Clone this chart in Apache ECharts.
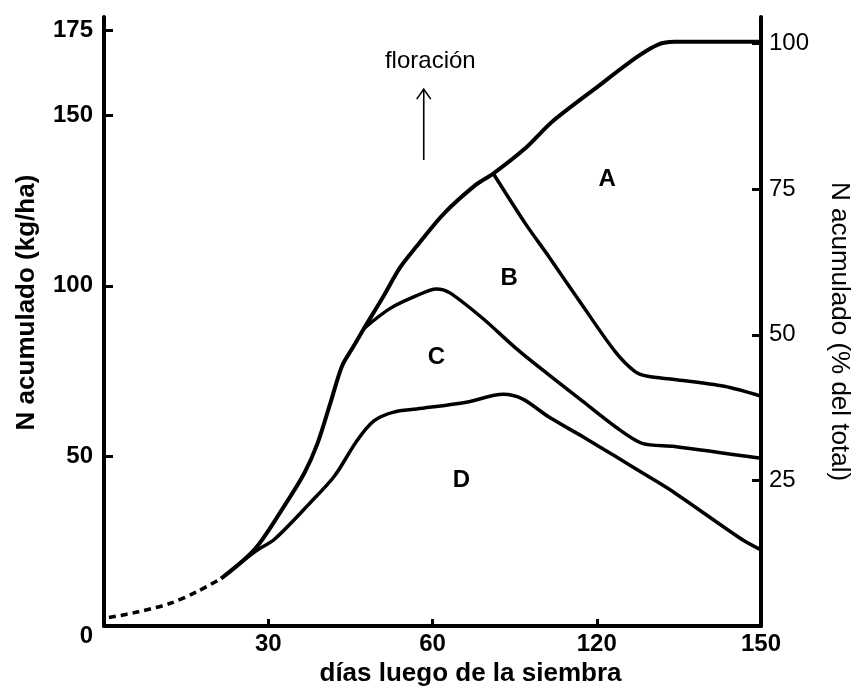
<!DOCTYPE html>
<html>
<head>
<meta charset="utf-8">
<script src="https://cdn.jsdelivr.net/npm/echarts@6/dist/echarts.min.js"></script>
<style>
html,body{margin:0;padding:0;background:#fff;}
#chart{width:860px;height:692px;}
</style>
</head>
<body>
<div id="chart"></div>
<script>
// x values are positions along the drawn axis (one label step = 30 units)
const xTickValues = [30, 60, 90, 120];
const xTickLabels = ['30', '60', '120', '150'];
const leftTicks = [0, 50, 100, 150, 175];
const rightTicks = [25, 50, 75, 100];

// dashed early part (common)
const dashX = [0.9, 6.3, 12.3, 17.2, 21.4];
const dashY = [2.5, 4.2, 6.8, 10.3, 14.0];

// total N curve (upper boundary, A)
const totalX = [21.4, 27.6, 33.0, 36.6, 39.0, 41.3, 43.5, 45.5, 47.5, 51.1, 54.0, 57.1, 62.0, 68.0, 71.1, 77.0, 81.9, 90.3, 97.5, 101.2, 104.2, 120];
const totalY = [14.0, 22.7, 35.5, 45.0, 53.7, 65.3, 76.5, 82.0, 87.5, 97.1, 105.2, 111.6, 121.1, 129.8, 133.0, 140.5, 148.3, 158.7, 167.4, 170.9, 171.7, 171.7];

// curve B
const bX = [71.1, 77.0, 81.2, 87.4, 93.4, 97.0, 99.3, 104.2, 113.3, 120];
const bY = [133.0, 118.2, 108.7, 94.2, 80.6, 74.8, 73.4, 72.5, 70.5, 67.6];

// curve C
const cX = [47.5, 52.2, 57.1, 60.7, 63.1, 69.2, 75.2, 81.2, 87.4, 93.4, 98.3, 104.2, 120];
const cY = [87.5, 93.3, 97.1, 99.1, 98.0, 90.4, 81.7, 73.9, 66.1, 58.6, 53.7, 52.8, 49.3];

// curve D
const dX = [21.4, 27.6, 31.2, 37.7, 42.1, 46.2, 49.3, 52.9, 57.1, 66.2, 72.9, 76.5, 81.2, 87.4, 93.4, 99.3, 104.2, 116.4, 120];
const dY = [14.0, 21.9, 25.6, 36.3, 44.1, 54.5, 60.3, 62.9, 63.8, 65.8, 68.1, 66.7, 61.5, 55.7, 49.9, 44.1, 39.2, 25.6, 22.4];

// region labels
const regionText = ['A', 'B', 'C', 'D'];
const regionX = [91.9, 74.0, 60.7, 65.3];
const regionY = [131.2, 102.3, 78.9, 42.7];

// flowering annotation
const floweringText = 'floración';
const floweringTextX = 59.6, floweringTextY = 165.9;
const floweringArrowX = 58.4, floweringArrowFrom = 137.0, floweringArrowTo = 157.8;

const zip = (xs, ys) => xs.map((x, i) => [x, ys[i]]);
const FONT = '"Liberation Sans", Arial, sans-serif';
const leftMax = 179;
const rightMax = 104.56;

const chart = echarts.init(document.getElementById('chart'), null, {renderer: 'canvas'});
const lineBase = {type: 'line', symbol: 'none', smooth: 0.3, xAxisIndex: 0, yAxisIndex: 0, silent: true};

chart.setOption({
  animation: false,
  backgroundColor: '#fff',
  grid: {left: 104, right: 93, top: 17, bottom: 56.5},
  xAxis: {
    type: 'value', min: 0, max: 120, interval: 30,
    splitLine: {show: false},
    axisLine: {lineStyle: {color: '#000', width: 4}},
    axisTick: {inside: true, length: 7, lineStyle: {color: '#000', width: 3}, customValues: [30, 60, 90]},
    axisLabel: {
      customValues: xTickValues,
      formatter: v => xTickLabels[xTickValues.indexOf(v)] || '',
      color: '#000', fontFamily: FONT, fontWeight: 'bold', fontSize: 24, margin: 6
    },
    name: 'días luego de la siembra', nameLocation: 'middle', nameGap: 30,
    nameTextStyle: {color: '#000', fontFamily: FONT, fontWeight: 'bold', fontSize: 26, padding: [0, 0, 0, 76]}
  },
  yAxis: [{
    type: 'value', min: 0, max: leftMax, position: 'left',
    splitLine: {show: false},
    axisLine: {show: true, lineStyle: {color: '#000', width: 4}},
    axisTick: {show: true, inside: true, length: 9, lineStyle: {color: '#000', width: 3}, customValues: [50, 100, 150, 175]},
    axisLabel: {
      customValues: leftTicks,
      formatter: v => v === 0 ? '{z|0}' : String(v),
      rich: {z: {padding: [20, 0, 0, 0], fontSize: 24, fontWeight: 'bold', fontFamily: FONT, color: '#000'}},
      color: '#000', fontFamily: FONT, fontWeight: 'bold', fontSize: 24, margin: 11
    },
    name: 'N acumulado (kg/ha)', nameLocation: 'middle', nameGap: 64, nameRotate: 90,
    nameTextStyle: {color: '#000', fontFamily: FONT, fontWeight: 'bold', fontSize: 26, padding: [0, 0, 0, 38]}
  }, {
    type: 'value', min: 0, max: rightMax, position: 'right',
    splitLine: {show: false},
    axisLine: {show: true, lineStyle: {color: '#000', width: 4}},
    axisTick: {show: true, inside: true, length: 9, lineStyle: {color: '#000', width: 3}, customValues: rightTicks},
    axisLabel: {
      customValues: rightTicks,
      color: '#000', fontFamily: FONT, fontSize: 24, margin: 8, padding: [8, 0, 0, 0]
    },
    name: 'N acumulado (% del total)', nameLocation: 'middle', nameGap: 65, nameRotate: -90,
    nameTextStyle: {color: '#000', fontFamily: FONT, fontSize: 26, padding: [0, 0, 0, 20]}
  }],
  series: [
    Object.assign({}, lineBase, {name: 'inicio', data: zip(dashX, dashY), lineStyle: {color: '#000', width: 3.5, type: [7, 5]}}),
    Object.assign({}, lineBase, {name: 'total', data: zip(totalX, totalY), lineStyle: {color: '#000', width: 4}}),
    Object.assign({}, lineBase, {name: 'B', data: zip(bX, bY), lineStyle: {color: '#000', width: 3.5}}),
    Object.assign({}, lineBase, {name: 'C', data: zip(cX, cY), lineStyle: {color: '#000', width: 3.5}}),
    Object.assign({}, lineBase, {name: 'D', data: zip(dX, dY), lineStyle: {color: '#000', width: 3.5}}),
    {
      type: 'scatter', symbolSize: 0, silent: true, itemStyle: {opacity: 1},
      data: regionText.map((t, i) => ({name: t, value: [regionX[i], regionY[i]]})),
      label: {show: true, position: 'inside', opacity: 1, formatter: p => p.name, color: '#000', fontFamily: FONT, fontWeight: 'bold', fontSize: 24}
    },
    {
      type: 'scatter', symbolSize: 0, silent: true, itemStyle: {opacity: 1},
      data: [{name: floweringText, value: [floweringTextX, floweringTextY]}],
      label: {show: true, position: 'inside', opacity: 1, formatter: p => p.name, color: '#000', fontFamily: FONT, fontSize: 24}
    },
    {
      type: 'custom', silent: true,
      data: [[floweringArrowX, floweringArrowFrom, floweringArrowTo]],
      renderItem: (params, api) => {
        const p0 = api.coord([api.value(0), api.value(1)]);
        const p1 = api.coord([api.value(0), api.value(2)]);
        return {
          type: 'group',
          children: [
            {type: 'line', shape: {x1: p0[0], y1: p0[1], x2: p1[0], y2: p1[1]}, style: {stroke: '#000', lineWidth: 1.6}},
            {type: 'polyline', shape: {points: [[p1[0] - 7, p1[1] + 10], [p1[0], p1[1]], [p1[0] + 7, p1[1] + 10]]}, style: {stroke: '#000', lineWidth: 1.6, fill: null}}
          ]
        };
      }
    }
  ]
});
</script>
</body>
</html>
